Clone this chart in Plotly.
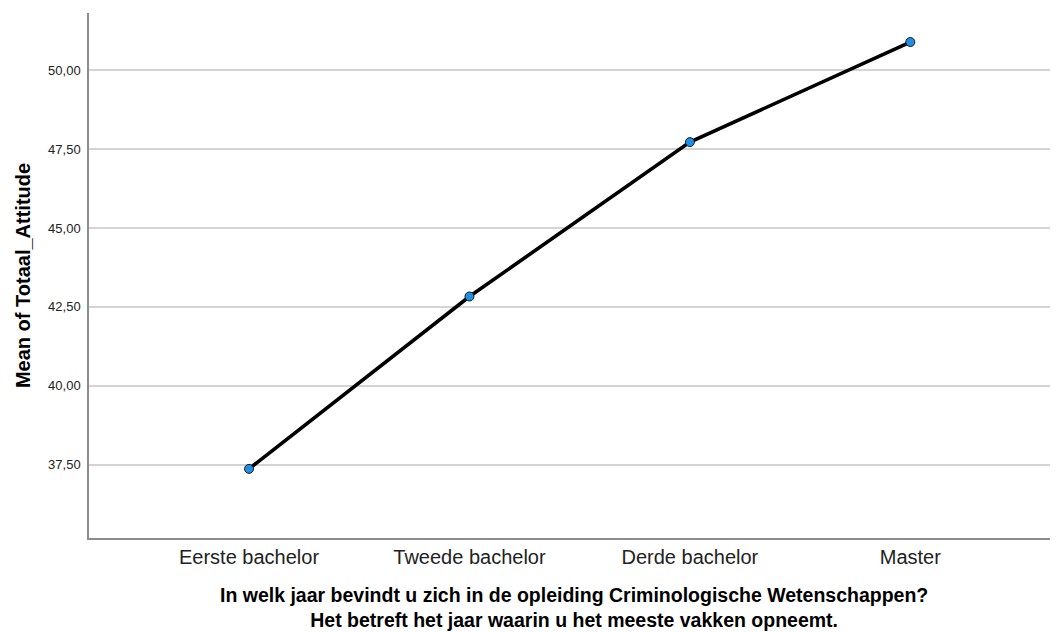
import plotly.graph_objects as go

categories = ["Eerste bachelor", "Tweede bachelor", "Derde bachelor", "Master"]
means = [37.37, 42.83, 47.72, 50.89]
y_ticks = [37.5, 40.0, 42.5, 45.0, 47.5, 50.0]
y_tick_labels = ["37,50", "40,00", "42,50", "45,00", "47,50", "50,00"]
x_title_lines = [
    "In welk jaar bevindt u zich in de opleiding Criminologische Wetenschappen?",
    "Het betreft het jaar waarin u het meeste vakken opneemt.",
]
y_title = "Mean of Totaal_Attitude"

FONT = "Liberation Sans, Arial, sans-serif"
xpos = list(range(len(categories)))

fig = go.Figure()
fig.add_trace(go.Scatter(
    x=xpos, y=means, mode="lines+markers",
    line=dict(color="black", width=3.6),
    marker=dict(size=9, color="#1f8fe6", line=dict(color="#1a1a1a", width=1)),
    showlegend=False, hoverinfo="skip",
))

fig.add_annotation(
    text="<br>".join(x_title_lines), xref="paper", yref="paper", x=0.5, y=0,
    xanchor="center", yanchor="middle", yshift=-69, showarrow=False,
    font=dict(size=19.5, color="black", family=FONT, weight="bold"),
)

fig.update_layout(
    width=1050, height=624,
    margin=dict(l=81, r=0, t=5, b=94),
    paper_bgcolor="white", plot_bgcolor="white",
    font=dict(family=FONT, color="black"),
    xaxis=dict(
        range=[-0.726, 3.67], tickvals=xpos, ticktext=categories,
        showgrid=False, zeroline=False, showline=True,
        linecolor="#8c8c8c", linewidth=1.5, ticks="",
        tickfont=dict(size=20, color="#222"),
    ),
    yaxis=dict(
        range=[35.18, 51.81], tickvals=y_ticks, ticktext=y_tick_labels,
        showgrid=True, gridcolor="#d4d4d4", gridwidth=1.5,
        zeroline=False, showline=True, linecolor="#8c8c8c", linewidth=1.5,
        ticks="", tickfont=dict(size=13, color="#222"), ticklabelstandoff=4,
        title=dict(text=y_title, font=dict(size=20, color="black", weight="bold"), standoff=12),
    ),
)

fig.write_html("out.html")
